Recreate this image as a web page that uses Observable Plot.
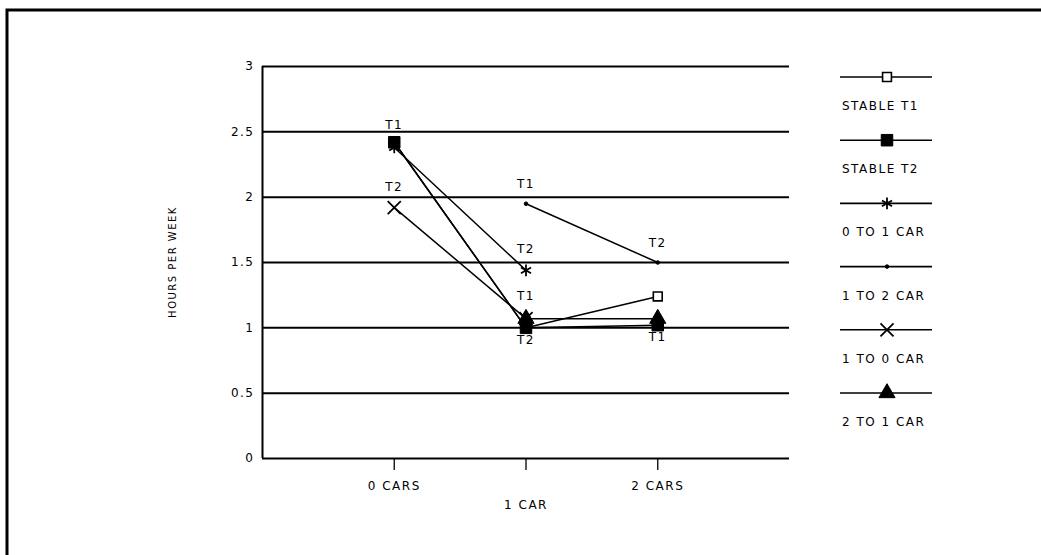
<!DOCTYPE html>
<html><head><meta charset="utf-8">
<script src="https://cdn.jsdelivr.net/npm/d3@7"></script>
<script src="https://cdn.jsdelivr.net/npm/@observablehq/plot@0.6"></script>
<style>
html,body{margin:0;padding:0;background:#fff;}
#chart{position:relative;width:1041px;height:555px;}
svg text{letter-spacing:1.5px;}
</style></head><body><div id="chart"></div>
<script>
// ---- data ----
const carGroups = [0, 1, 2];
const carLabels = ["0 CARS", "1 CAR", "2 CARS"];
const yTicks = [0, 0.5, 1, 1.5, 2, 2.5, 3];
const yLabel = "HOURS PER WEEK";
const seriesNames = ["STABLE T1", "STABLE T2", "0 TO 1 CAR", "1 TO 2 CAR", "1 TO 0 CAR", "2 TO 1 CAR"];
const stableT1X = [0, 1, 2];   const stableT1Y = [2.42, 1.00, 1.24];
const stableT2X = [0, 1, 2];   const stableT2Y = [2.42, 1.00, 1.02];
const zeroToOneX = [0, 1];     const zeroToOneY = [2.38, 1.44];
const oneToTwoX = [1, 2];      const oneToTwoY = [1.95, 1.50];
const oneToZeroX = [0, 1];     const oneToZeroY = [1.92, 1.07];
const twoToOneX = [1, 2];      const twoToOneY = [1.07, 1.07];
// time-point annotations
const noteText = ["T1", "T2", "T1", "T2", "T1", "T2", "T2", "T1"];
const noteX    = [0, 0, 1, 1, 1, 1, 2, 2];
const noteY    = [2.52, 2.05, 2.07, 1.57, 1.21, 0.88, 1.62, 0.90];

// ---- build tables ----
const xs = [stableT1X, stableT2X, zeroToOneX, oneToTwoX, oneToZeroX, twoToOneX];
const ys = [stableT1Y, stableT2Y, zeroToOneY, oneToTwoY, oneToZeroY, twoToOneY];
const series = seriesNames.map((name, i) => xs[i].map((x, j) => ({name, x, y: ys[i][j]})));
const allPts = series.flat();
const notes = noteText.map((t, i) => ({t, x: noteX[i], y: noteY[i]}));
const ticksX = carGroups.map((x, i) => ({x, label: carLabels[i]}));

const font = "DejaVu Sans";
const markerStyle = [
  {symbol: "square", fill: "white", stroke: "black", r: 5, strokeWidth: 1.6},
  {symbol: "square", fill: "black", stroke: "black", r: 6.5, strokeWidth: 1},
  {symbol: "asterisk", fill: "none", stroke: "black", r: 5.5, strokeWidth: 1.8},
  {symbol: "circle", fill: "black", stroke: "black", r: 1.8, strokeWidth: 1},
  {symbol: "times", fill: "none", stroke: "black", r: 6, strokeWidth: 1.8},
  {symbol: "triangle", fill: "black", stroke: "black", r: 6, strokeWidth: 1}
];
const drawOrder = [4, 2, 3, 0, 5, 1];

const marks = [
  Plot.ruleY(yTicks, {stroke: "black", strokeWidth: 2}),
  Plot.ruleX([-1], {y1: 0, y2: 3, stroke: "black", strokeWidth: 2}),
  Plot.axisX({ticks: carGroups, tickSize: 12, tickFormat: () => "", strokeWidth: 1.3, label: null}),
  Plot.axisY({ticks: yTicks, tickSize: 0, tickPadding: 8, fontSize: 12, tickFormat: d => String(d), label: null}),
  Plot.text(ticksX.filter(d => d.x !== 1), {x: "x", y: 0, text: "label", dy: 28, fontSize: 12}),
  Plot.text(ticksX.filter(d => d.x === 1), {x: "x", y: 0, text: "label", dy: 47, fontSize: 12}),
  Plot.line(allPts, {x: "x", y: "y", z: "name", stroke: "black", strokeWidth: 1.5}),
  ...drawOrder.map(i => Plot.dot(series[i], {x: "x", y: "y", ...markerStyle[i]})),
  Plot.text(notes, {x: "x", y: "y", text: "t", fontSize: 12, lineAnchor: "bottom"})
];

const plot = Plot.plot({
  width: 1041, height: 555,
  marginLeft: 262, marginRight: 252, marginTop: 66, marginBottom: 97,
  x: {type: "linear", domain: [-1, 3], axis: null},
  y: {type: "linear", domain: [0, 3], axis: null},
  style: {fontFamily: font, fontSize: "12px", background: "white", color: "black", overflow: "visible"},
  marks
});

const svg = d3.select(plot);
// outer frame (top and left)
svg.append("path").attr("d", "M7,555 L7,10 L1041,10").attr("fill", "none").attr("stroke", "black").attr("stroke-width", 3);
// y label
svg.append("text").attr("transform", "translate(176,262) rotate(-90)")
  .attr("text-anchor", "middle").attr("font-size", 10).attr("font-family", font).text(yLabel);
// legend
const lg = svg.append("g").attr("font-family", font).attr("font-size", 12).attr("text-anchor", "start");
const syms = {square: d3.symbolSquare, circle: d3.symbolCircle, asterisk: d3.symbolAsterisk, times: d3.symbolTimes, triangle: d3.symbolTriangle};
seriesNames.forEach((name, i) => {
  const y0 = 77 + i * 63.2;
  const g = lg.append("g").attr("transform", `translate(0,${y0})`);
  g.append("line").attr("x1", 840).attr("x2", 932).attr("y1", 0).attr("y2", 0).attr("stroke", "black").attr("stroke-width", 1.6);
  const m = markerStyle[i];
  g.append("path").attr("transform", "translate(887,0)")
    .attr("d", d3.symbol(syms[m.symbol], Math.PI * m.r * m.r)())
    .attr("fill", m.fill).attr("stroke", m.stroke).attr("stroke-width", m.strokeWidth);
  g.append("text").attr("x", 842).attr("y", 33).attr("text-anchor", "start").text(name);
});
document.getElementById("chart").appendChild(plot);
</script></body></html>
